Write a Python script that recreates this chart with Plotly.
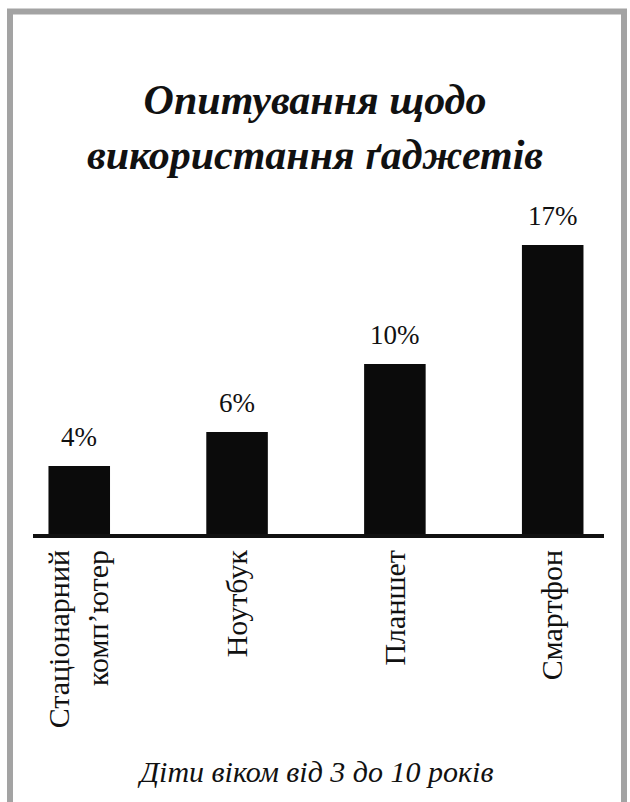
import plotly.graph_objects as go

categories = ["Стаціонарний<br>комп’ютер", "Ноутбук", "Планшет", "Смартфон"]
values = [4, 6, 10, 17]
value_labels = ["4%", "6%", "10%", "17%"]
title_text = "Опитування щодо<br>використання ґаджетів"
subtitle_text = "Діти віком від 3 до 10 років"

W, H = 630, 802
base_y = 534          # pixel of baseline
px_per_unit = 17.0

fig = go.Figure()
fig.add_trace(go.Bar(
    x=categories, y=values,
    width=0.39,
    marker=dict(color="#0b0b0b", line=dict(width=0)),
    hoverinfo="skip",
))

for c, v, t in zip(categories, values, value_labels):
    fig.add_annotation(
        x=c, y=v, xref="x", yref="y", text=t, showarrow=False,
        yanchor="bottom", yshift=12,
        font=dict(family="Liberation Serif", size=27, color="#111"),
    )

fig.add_annotation(
    x=0.5, y=1 - 782 / H, xref="paper", yref="paper", text=subtitle_text,
    showarrow=False, xanchor="center", yanchor="bottom", yshift=-8,
    font=dict(family="Liberation Serif, DejaVu Serif, serif", size=30, color="#111", style="italic"),
)

fig.add_shape(
    type="rect", xref="paper", yref="paper",
    x0=10 / W, x1=624 / W, y0=-0.05, y1=1 - 11.5 / H,
    line=dict(color="#a3a3a3", width=6), fillcolor="rgba(0,0,0,0)",
)

fig.update_layout(
    width=W, height=H,
    margin=dict(l=0, r=0, t=0, b=0),
    paper_bgcolor="white", plot_bgcolor="white",
    showlegend=False,
    title=dict(
        text=title_text, x=0.5, xanchor="center", y=1 - 114 / H, yanchor="top",
        font=dict(family="Liberation Serif", size=42, color="#111", weight="bold", style="italic"),
    ),
    xaxis=dict(
        type="category",
        domain=[33 / W, 604 / W],
        range=[-0.293, 3.325],
        showline=True, linecolor="#111", linewidth=4,
        showgrid=False, zeroline=False, ticks="",
        tickangle=-90, ticklabelstandoff=0,
        tickfont=dict(family="Liberation Serif", size=30, color="#111"),
    ),
    yaxis=dict(
        domain=[1 - base_y / H, 1],
        range=[0, base_y / px_per_unit],
        visible=False, showgrid=False, zeroline=False,
    ),
)

fig.write_html("out.html")
